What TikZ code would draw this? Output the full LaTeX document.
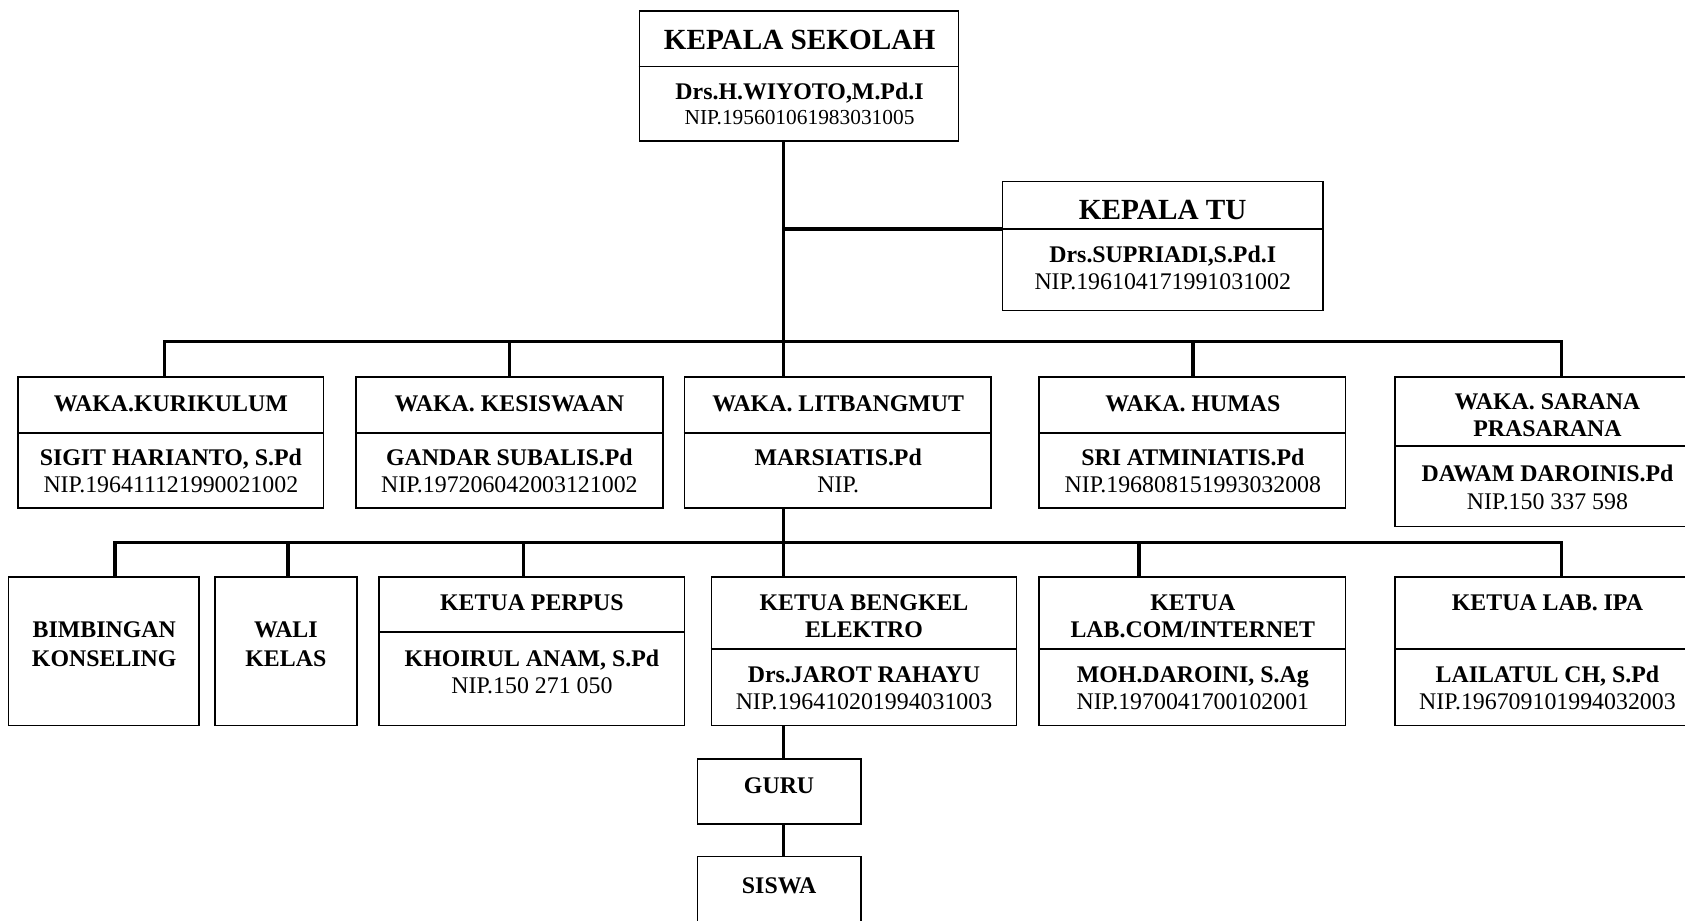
\documentclass[tikz,border=0pt]{standalone}
\usepackage{fontspec}
\setmainfont{Liberation Serif}
\usetikzlibrary{fit}
\begin{document}
\begin{tikzpicture}[x=0.5pt,y=-0.5pt,
  box/.style={draw, line width=0.8pt, inner sep=0pt},
  conn/.style={line width=1.6pt},
  hd/.style={anchor=base, inner sep=0pt, font=\fontsize{13.6}{16}\selectfont\bfseries},
  ttl/.style={anchor=base, inner sep=0pt, font=\fontsize{11.1}{12.5}\selectfont\bfseries},
  nip/.style={anchor=base, inner sep=0pt, font=\fontsize{11.1}{12.5}\selectfont},
  nips/.style={anchor=base, inner sep=0pt, font=\fontsize{9.95}{12}\selectfont},
  dv/.style={line width=0.8pt}]
\useasboundingbox (0,0) rectangle (1568,857);
\fill[white] (0,0) rectangle (1568,857);

% ---------- boxes ----------
\node[box, fit={(595,10) (892,131)}] (ks) {};
\node[box, fit={(933,169) (1231,289)}] (tu) {};
\node[box, fit={(17,351) (301,473)}] (kur) {};
\node[box, fit={(331,351) (617,473)}] (kes) {};
\node[box, fit={(637,351) (922,473)}] (lit) {};
\node[box, fit={(967,351) (1252,473)}] (hum) {};
\node[box, fit={(1298,351) (1582,490)}] (sar) {};
\node[box, fit={(8,537) (185,675)}] (bk) {};
\node[box, fit={(200,537) (332,675)}] (wk) {};
\node[box, fit={(353,537) (637,675)}] (per) {};
\node[box, fit={(662,537) (946,675)}] (ben) {};
\node[box, fit={(967,537) (1252,675)}] (lab) {};
\node[box, fit={(1298,537) (1582,675)}] (ipa) {};
\node[box, fit={(649,706) (801,767)}] (guru) {};
\node[box, fit={(649,797) (801,862)}] (sis) {};

% ---------- dividers ----------
\draw[dv] (ks.west |- 0,62) -- (ks.east |- 0,62);
\draw[dv] (tu.west |- 0,213) -- (tu.east |- 0,213);
\foreach \b in {kur,kes,lit,hum} \draw[dv] (\b.west |- 0,403) -- (\b.east |- 0,403);
\draw[dv] (sar.west |- 0,415) -- (sar.east |- 0,415);
\draw[dv] (per.west |- 0,588) -- (per.east |- 0,588);
\foreach \b in {ben,lab,ipa} \draw[dv] (\b.west |- 0,604) -- (\b.east |- 0,604);

% ---------- texts ----------
\node[hd] (ks-t) at (744,46) {KEPALA SEKOLAH};
\node[ttl] (ks-n) at (744,93) {Drs.H.WIYOTO,M.Pd.I};
\node[nips] (ks-p) at (744,116) {NIP.195601061983031005};

\node[hd] (tu-t) at (1082,204) {KEPALA TU};
\node[ttl] (tu-n) at (1082,244) {Drs.SUPRIADI,S.Pd.I};
\node[nip] (tu-p) at (1082,269) {NIP.196104171991031002};

\node[ttl] (kur-t) at (159,383) {WAKA.KURIKULUM};
\node[ttl] (kur-n) at (159,433) {SIGIT HARIANTO, S.Pd};
\node[nip] (kur-p) at (159,458) {NIP.196411121990021002};

\node[ttl] (kes-t) at (474,383) {WAKA. KESISWAAN};
\node[ttl] (kes-n) at (474,433) {GANDAR SUBALIS.Pd};
\node[nip] (kes-p) at (474,458) {NIP.197206042003121002};

\node[ttl] (lit-t) at (780,383) {WAKA. LITBANGMUT};
\node[ttl] (lit-n) at (780,433) {MARSIATIS.Pd};
\node[nip] (lit-p) at (780,458) {NIP.};

\node[ttl] (hum-t) at (1110,383) {WAKA. HUMAS};
\node[ttl] (hum-n) at (1110,433) {SRI ATMINIATIS.Pd};
\node[nip] (hum-p) at (1110,458) {NIP.196808151993032008};

\node[ttl] (sar-t1) at (1440,381) {WAKA. SARANA};
\node[ttl] (sar-t2) at (1440,406) {PRASARANA};
\node[ttl] (sar-n) at (1440,448) {DAWAM DAROINIS.Pd};
\node[nip] (sar-p) at (1440,474) {NIP.150 337 598};

\node[ttl] (bk-t1) at (97,593) {BIMBINGAN};
\node[ttl] (bk-t2) at (97,620) {KONSELING};

\node[ttl] (wk-t1) at (266,593) {WALI};
\node[ttl] (wk-t2) at (266,620) {KELAS};

\node[ttl] (per-t) at (495,568) {KETUA PERPUS};
\node[ttl] (per-n) at (495,620) {KHOIRUL ANAM, S.Pd};
\node[nip] (per-p) at (495,645) {NIP.150 271 050};

\node[ttl] (ben-t1) at (804,568) {KETUA BENGKEL};
\node[ttl] (ben-t2) at (804,593) {ELEKTRO};
\node[ttl] (ben-n) at (804,635) {Drs.JAROT RAHAYU};
\node[nip] (ben-p) at (804,660) {NIP.196410201994031003};

\node[ttl] (lab-t1) at (1110,568) {KETUA};
\node[ttl] (lab-t2) at (1110,593) {LAB.COM/INTERNET};
\node[ttl] (lab-n) at (1110,635) {MOH.DAROINI, S.Ag};
\node[nip] (lab-p) at (1110,660) {NIP.1970041700102001};

\node[ttl] (ipa-t) at (1440,568) {KETUA LAB. IPA};
\node[ttl] (ipa-n) at (1440,635) {LAILATUL CH, S.Pd};
\node[nip] (ipa-p) at (1440,660) {NIP.196709101994032003};

\node[ttl] (guru-t) at (725,738) {GURU};
\node[ttl] (sis-t) at (725,831) {SISWA};

% ---------- connectors ----------
\coordinate (tr) at (729,0);
\coordinate (ctu) at (729,213);
\coordinate (b1) at (0,318);
\coordinate (b2) at (0,505);

% trunk from Kepala Sekolah to Waka Litbangmut
\draw[conn] (ks.south -| tr) -- (lit.north -| tr);
% to Kepala TU
\draw[conn] (ctu) -- (ctu -| tu.west);
% bus 1
\draw[conn] (kur.north -| 153,0) -- (b1 -| 153,0) -- (b1 -| 1453,0) -- (sar.north -| 1453,0);
\draw[conn] (b1 -| kes.north) -- (kes.north);
\draw[conn] (b1 -| 1110,0) -- (hum.north -| 1110,0);
% Litbangmut to bus 2
\draw[conn] (lit.south -| tr) -- (ben.north -| tr);
% bus 2
\draw[conn] (bk.north -| 107,0) -- (b2 -| 107,0) -- (b2 -| 1453,0) -- (ipa.north -| 1453,0);
\draw[conn] (b2 -| 268,0) -- (wk.north -| 268,0);
\draw[conn] (b2 -| 487,0) -- (per.north -| 487,0);
\draw[conn] (b2 -| 1060,0) -- (lab.north -| 1060,0);
% Bengkel -> Guru -> Siswa
\draw[conn] (ben.south -| tr) -- (guru.north -| tr);
\draw[conn] (guru.south -| tr) -- (sis.north -| tr);
\end{tikzpicture}
\end{document}
